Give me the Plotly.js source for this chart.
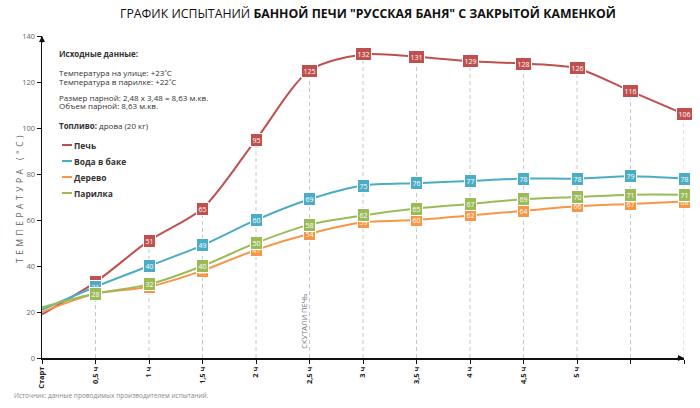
<!DOCTYPE html>
<html>
<head>
<meta charset="utf-8">
<script src="https://cdn.plot.ly/plotly-3.0.1.min.js"></script>
<style>
html,body{margin:0;padding:0;background:#fff;}
#chart{width:700px;height:408px;}
</style>
</head>
<body>
<div id="chart"></div>
<script>
// ---- data ----
const hours = [0, 0.5, 1, 1.5, 2, 2.5, 3, 3.5, 4, 4.5, 5, 5.5, 6];
const tickLabels = ["Старт", "0,5 ч", "1 ч", "1,5 ч", "2 ч", "2,5 ч", "3 ч", "3,5 ч", "4 ч", "4,5 ч", "5 ч", "", ""];
const stove = [19, 33, 51, 65, 95, 125, 132, 131, 129, 128, 126, 116, 106];
const water = [21, 31, 40, 49, 60, 69, 75, 76, 77, 78, 78, 79, 78];
const wood = [20, 28, 31, 38, 47, 54, 59, 60, 62, 64, 66, 67, 68];
const steam = [22, 28, 32, 40, 50, 58, 62, 65, 67, 69, 70, 71, 71];
const seriesNames = ["Печь", "Вода в баке", "Дерево", "Парилка"];
const seriesColors = ["#c0504d", "#4bacc6", "#f79646", "#9bbb59"];
const seriesValues = [stove, water, wood, steam];
const yTitle = "ТЕМПЕРАТУРА (°C)";
const FONT = "Open Sans, sans-serif";

// pixel helpers for the fixed 700x408 layout
const L = 42, W = 642, B = 358, H = 322;
const px = v => (v - L) / W;
const py = v => (B - v) / H;

// vertical dashed guides from 0 up to the stove value
const gx = [], gy = [];
hours.forEach((h, i) => { if (i > 0) { gx.push(h, h, null); gy.push(0, stove[i], null); } });

const traces = [{
  x: gx, y: gy, mode: "lines", showlegend: false, hoverinfo: "skip",
  line: {color: "#c8c8c8", width: 1, dash: "4px,3px"}
}];
seriesValues.forEach((vals, k) => {
  traces.push({
    x: hours, y: vals, name: seriesNames[k], mode: "lines", showlegend: false,
    line: {color: seriesColors[k], width: 2, shape: "spline", smoothing: 0.8}
  });
});

const annotations = [];
const shapes = [];
seriesValues.forEach((vals, k) => {
  vals.forEach((v, i) => {
    if (i === 0) return;
    annotations.push({
      x: hours[i], y: v, xref: "x", yref: "y", text: String(v), showarrow: false,
      font: {family: FONT, size: 7, color: "#fff"},
      bgcolor: seriesColors[k], bordercolor: "#fff", borderwidth: 1, borderpad: 1.5
    });
  });
});

function note(text, y, size) {
  annotations.push({
    xref: "paper", yref: "paper", x: px(57), y: py(y),
    xanchor: "left", yanchor: "middle", showarrow: false, text: text,
    font: {family: FONT, size: size || 8, color: "#333"}
  });
}
note("<b>Исходные данные:</b>", 53, 8);
note("Температура на улице: +23˚C", 72);
note("Температура в парилке: +22˚C", 81);
note("Размер парной: 2,48 x 3,48 = 8,63 м.кв.", 97);
note("Объем парной: 8,63 м.кв.", 106);
note("<b>Топливо:</b> дрова (20 кг)", 126, 8);

// legend (short line + bold label)
seriesNames.forEach((name, k) => {
  const yy = 145 + 16 * k;
  shapes.push({type: "line", xref: "paper", yref: "paper", x0: px(62), x1: px(72), y0: py(yy), y1: py(yy),
    line: {color: seriesColors[k], width: 2}});
  annotations.push({xref: "paper", yref: "paper", x: px(72), y: py(yy), xanchor: "left", yanchor: "middle",
    showarrow: false, text: "<b>" + name + "</b>", font: {family: FONT, size: 8.5, color: "#333"}});
});

// y axis title (placed precisely)
annotations.push({xref: "paper", yref: "paper", x: px(19), y: py(197), xanchor: "center", yanchor: "middle",
  textangle: -90, showarrow: false, text: yTitle, font: {family: FONT, size: 8.5, color: "#666"}});

// marker note on the 2.5 h guide
annotations.push({
  x: hours[5], y: 16, xref: "x", yref: "y", xshift: -5, text: "СКУТАЛИ ПЕЧЬ", textangle: -90,
  showarrow: false, font: {family: FONT, size: 7.5, color: "#777"}
});
// axis arrows
annotations.push({x: 6, y: 0, xref: "x", yref: "y", ax: -8, ay: 0, text: "", showarrow: true,
  arrowhead: 2, arrowsize: 0.8, arrowwidth: 1.5, arrowcolor: "#111"});
annotations.push({x: 0, y: 140, xref: "x", yref: "y", ax: 0, ay: 8, text: "", showarrow: true,
  arrowhead: 2, arrowsize: 0.8, arrowwidth: 1.5, arrowcolor: "#111"});
// source
annotations.push({xref: "paper", yref: "paper", x: px(12), y: py(396),
  xanchor: "left", yanchor: "middle", showarrow: false,
  text: "Источник: данные проводимых производителем испытаний.",
  font: {family: FONT, size: 6.5, color: "#888"}});

const layout = {
  width: 700, height: 408,
  margin: {l: 42, r: 16, t: 36, b: 50},
  paper_bgcolor: "#fff", plot_bgcolor: "#fff",
  font: {family: FONT, color: "#333"},
  title: {
    text: "ГРАФИК ИСПЫТАНИЙ <b>БАННОЙ ПЕЧИ \"РУССКАЯ БАНЯ\" С ЗАКРЫТОЙ КАМЕНКОЙ</b>",
    font: {family: FONT, size: 12.3, color: "#111"},
    x: 368 / 700, xanchor: "center", y: 1 - 14 / 408, yanchor: "middle", xref: "container", yref: "container"
  },
  xaxis: {
    range: [0, 6], tickmode: "array", tickvals: hours, ticktext: tickLabels,
    tickangle: -90, ticks: "outside", ticklen: 4, tickcolor: "#111", tickwidth: 1,
    showline: true, linecolor: "#111", linewidth: 1.5, showgrid: false, zeroline: false,
    tickfont: {family: FONT, size: 7.5, color: "#222", weight: "bold"}
  },
  yaxis: {
    range: [0, 140], dtick: 20, ticks: "outside", ticklen: 4, tickcolor: "#111",
    showline: true, linecolor: "#111", linewidth: 1.5, showgrid: false, zeroline: false,
    tickfont: {family: FONT, size: 7.5, color: "#666"}
  },
  annotations: annotations,
  shapes: shapes,
  showlegend: false
};

Plotly.newPlot("chart", traces, layout, {displayModeBar: false, staticPlot: true}).then(gd => {
  gd.querySelectorAll(".annotation-text").forEach(t => {
    if (t.textContent === yTitle) t.style.letterSpacing = "3.5px";
  });
});
</script>
</body>
</html>
